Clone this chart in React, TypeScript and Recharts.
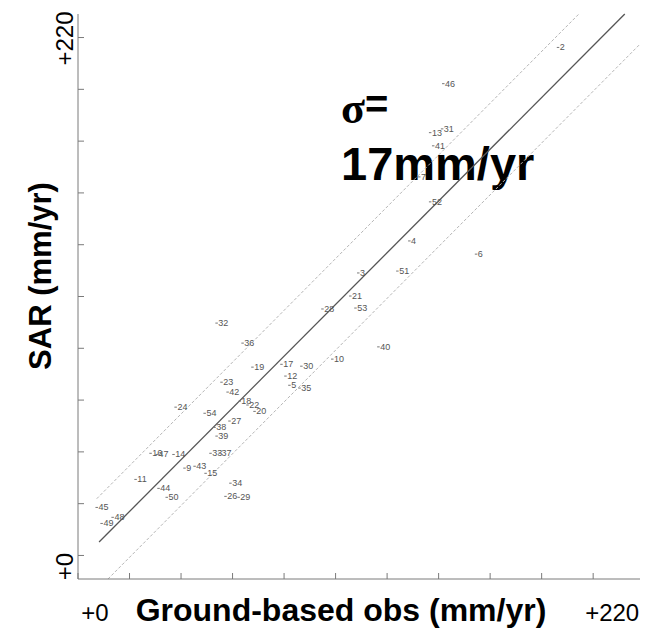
import React from "react";
import { ComposedChart, ReferenceLine, Scatter, XAxis, YAxis } from "recharts";

// station ids, ground-based rate (x) and SAR rate (y), mm/yr
const stationIds = [
	"2", "46", "13", "31", "41", "7", "52", "4", "6", "3", "51", "21", "28",
	"53", "40", "10", "30", "17", "12", "5", "35", "32", "36", "19", "23",
	"42", "18", "22", "20", "24", "54", "27", "38", "39", "16", "47", "14",
	"33", "37", "9", "43", "15", "11", "34", "44", "50", "26", "29",
	"45", "48", "49",
];
const groundObs = [
	205.1, 156.1, 150.5, 155.6, 151.8, 145.8, 150.5, 141.6, 170.1, 119.8,
	136.5, 116.4, 104.5, 118.6, 128.4, 108.7, 95.5, 87.0, 88.7, 90.4, 94.7,
	59.3, 70.4, 74.6, 61.4, 64.0, 69.1, 72.5, 75.5, 41.8, 54.2, 64.8, 58.4,
	59.3, 31.1, 33.7, 40.9, 56.7, 60.6, 45.6, 49.9, 54.6, 24.7, 65.2,
	34.5, 38.0, 63.1, 68.7, 8.1, 14.9, 10.2,
];
const sarObs = [
	215.8, 200.4, 179.6, 181.2, 174.0, 160.8, 150.2, 133.6, 128.0, 120.0,
	120.8, 110.2, 104.7, 105.1, 88.6, 83.4, 80.4, 81.2, 76.2, 72.3, 71.1,
	98.7, 90.2, 80.0, 73.6, 69.4, 65.5, 63.9, 61.2, 63.0, 60.4, 57.1, 54.4,
	50.7, 43.4, 42.9, 42.9, 43.4, 43.4, 37.1, 37.9, 34.9, 32.3, 30.7,
	28.5, 24.7, 25.1, 24.7, 20.4, 16.2, 13.6,
];

// fitted line and the band around it
const fitLine = [{ x: 9, y: 5.7 }, { x: 233.5, y: 230 }];
const upperBand = [{ x: 8, y: 24.1 }, { x: 213.9, y: 230 }];
const lowerBand = [{ x: 12.8, y: -10 }, { x: 240, y: 217.2 }];

const axisTicks = [0, 22, 44, 66, 88, 110, 132, 154, 176, 198, 220];
const edgeLabels: Record<number, string> = { 0: "+0", 220: "+220" };

const points = stationIds.map((id, i) => ({
	id,
	obs: groundObs[i],
	sar: sarObs[i],
}));

const frame = "#7a7a7a";
const sans = "Liberation Sans, Arial, sans-serif";

const BottomTick = (props: any) => {
	const { x, y, payload } = props;
	const label = edgeLabels[payload.value];
	return (
		<g>
			<line x1={x} y1={y} x2={x} y2={y - 6} stroke={frame} />
			{label && (
				<text
					x={x + (payload.value === 0 ? 17 : 19)}
					y={y + 42}
					textAnchor="middle"
					fontSize={24}
					fontFamily={sans}
					fill="#000"
				>
					{label}
				</text>
			)}
		</g>
	);
};

const TopTick = (props: any) => {
	const { x, y } = props;
	return <line x1={x} y1={y} x2={x} y2={y + 6} stroke={frame} />;
};

const LeftTick = (props: any) => {
	const { x, y, payload } = props;
	const label = edgeLabels[payload.value];
	const lx = x - 13;
	const ly = y + (payload.value === 0 ? 11 : 1);
	return (
		<g>
			<line x1={x} y1={y} x2={x + 6} y2={y} stroke={frame} />
			{label && (
				<text
					x={lx}
					y={ly}
					transform={`rotate(-90, ${lx}, ${ly})`}
					textAnchor="middle"
					dominantBaseline="central"
					fontSize={24}
					fontFamily={sans}
					fill="#000"
				>
					{label}
				</text>
			)}
		</g>
	);
};

const RightTick = (props: any) => {
	const { x, y } = props;
	return <line x1={x} y1={y} x2={x - 6} y2={y} stroke={frame} />;
};

const StationMark = (props: any) => {
	const { cx, cy, payload } = props;
	return (
		<g>
			<line x1={cx - 1.5} y1={cy} x2={cx + 1} y2={cy} stroke="#777" />
			<text x={cx + 1.5} y={cy + 3} fontSize={9} fontFamily={sans} fill="#555">
				{payload.id}
			</text>
		</g>
	);
};

export default function App() {
	return (
		<div style={{ position: "relative", width: 649, height: 620 }}>
			<ComposedChart
				width={649}
				height={620}
				margin={{ top: 6, right: 17, bottom: 9, left: 30 }}
			>
				<XAxis
					xAxisId="bottom"
					type="number"
					dataKey="obs"
					domain={[0, 240]}
					ticks={axisTicks}
					height={40}
					tickSize={0}
					tickMargin={0}
					tickLine={false}
					tick={BottomTick}
					axisLine={{ stroke: frame }}
					allowDataOverflow
				/>
				<XAxis
					xAxisId="top"
					orientation="top"
					type="number"
					domain={[0, 240]}
					ticks={axisTicks}
					height={0}
					tickSize={0}
					tickMargin={0}
					tickLine={false}
					tick={TopTick}
					axisLine={{ stroke: frame }}
					allowDataOverflow
				/>
				<YAxis
					yAxisId="left"
					type="number"
					dataKey="sar"
					domain={[-10, 230]}
					ticks={axisTicks}
					width={40}
					tickSize={0}
					tickMargin={0}
					tickLine={false}
					tick={LeftTick}
					axisLine={{ stroke: frame }}
					allowDataOverflow
				/>
				<YAxis
					yAxisId="right"
					orientation="right"
					type="number"
					domain={[-10, 230]}
					ticks={axisTicks}
					width={0}
					tickSize={0}
					tickMargin={0}
					tickLine={false}
					tick={RightTick}
					axisLine={{ stroke: frame }}
					allowDataOverflow
				/>
				<ReferenceLine
					xAxisId="bottom"
					yAxisId="left"
					segment={upperBand}
					stroke="#b5b5b5"
					strokeDasharray="3 2"
				/>
				<ReferenceLine
					xAxisId="bottom"
					yAxisId="left"
					segment={lowerBand}
					stroke="#b5b5b5"
					strokeDasharray="3 2"
				/>
				<ReferenceLine
					xAxisId="bottom"
					yAxisId="left"
					segment={fitLine}
					stroke="#555"
					strokeWidth={1.3}
				/>
				<Scatter
					xAxisId="bottom"
					yAxisId="left"
					data={points}
					dataKey="sar"
					shape={StationMark}
					isAnimationActive={false}
				/>
				<text
					x={333}
					y={115}
					fontSize={44}
					fontWeight="bold"
					fontFamily="Liberation Serif, Times New Roman, serif"
					fill="#000"
				>
					σ
					<tspan dy={-5} fontSize={40} fontFamily={sans}>
						=
					</tspan>
				</text>
				<text
					x={333}
					y={172}
					fontSize={47}
					fontWeight="bold"
					fontFamily={sans}
					fill="#000"
				>
					17mm/yr
				</text>
				<text
					x={333}
					y={613}
					textAnchor="middle"
					fontSize={32}
					fontWeight="bold"
					fontFamily={sans}
					fill="#000"
				>
					Ground-based obs (mm/yr)
				</text>
				<text
					x={32}
					y={268}
					transform="rotate(-90, 32, 268)"
					textAnchor="middle"
					dominantBaseline="central"
					fontSize={31}
					fontWeight="bold"
					fontFamily={sans}
					fill="#000"
				>
					SAR (mm/yr)
				</text>
			</ComposedChart>
		</div>
	);
}
